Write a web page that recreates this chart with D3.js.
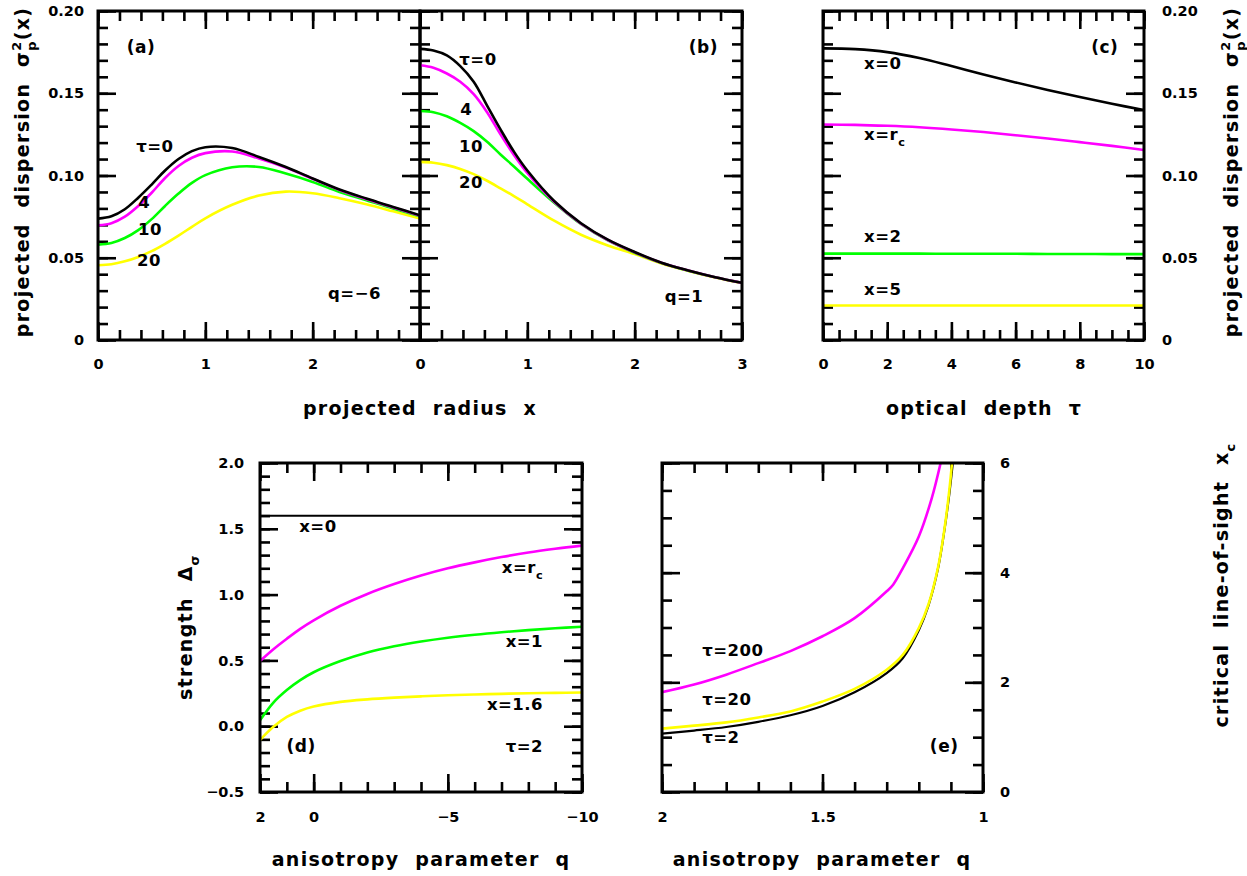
<!DOCTYPE html>
<html>
<head>
<meta charset="utf-8">
<script src="https://cdn.jsdelivr.net/npm/d3@7"></script>
<style>
  body { margin: 0; background: #fff; }
  text { font-family: "DejaVu Sans", sans-serif; font-weight: bold; white-space: pre; fill: #000; }
</style>
</head>
<body>
<script>
// ---- data ----
// projected radius grid, panels (a) and (b)
const radius = [0, 0.125, 0.25, 0.375, 0.5, 0.625, 0.75, 0.875, 1, 1.25, 1.5, 1.75, 2, 2.25, 2.5, 2.75, 3];
// (a) q = -6
const dispA_tau0  = [0.0738, 0.0752, 0.0795, 0.0865, 0.0945, 0.1030, 0.1100, 0.1148, 0.1172, 0.1167, 0.1113, 0.1052, 0.0982, 0.0915, 0.0860, 0.0809, 0.0758];
const dispA_tau4  = [0.0697, 0.0710, 0.0750, 0.0815, 0.0895, 0.0985, 0.1058, 0.1108, 0.1136, 0.1146, 0.1103, 0.1048, 0.0980, 0.0912, 0.0857, 0.0806, 0.0755];
const dispA_tau10 = [0.0580, 0.0590, 0.0620, 0.0668, 0.0735, 0.0815, 0.0890, 0.0955, 0.1002, 0.1050, 0.1052, 0.1012, 0.0961, 0.0900, 0.0850, 0.0799, 0.0752];
const dispA_tau20 = [0.0454, 0.0460, 0.0478, 0.0505, 0.0540, 0.0585, 0.0635, 0.0688, 0.0740, 0.0822, 0.0878, 0.0902, 0.0892, 0.0862, 0.0825, 0.0782, 0.0738];
// (b) q = 1
const dispB_tau0  = [0.1770, 0.1760, 0.1730, 0.1665, 0.1570, 0.1425, 0.1280, 0.1145, 0.1030, 0.0845, 0.0710, 0.0610, 0.0535, 0.0470, 0.0423, 0.0382, 0.0348];
const dispB_tau4  = [0.1670, 0.1655, 0.1620, 0.1570, 0.1495, 0.1385, 0.1250, 0.1125, 0.1015, 0.0840, 0.0707, 0.0608, 0.0533, 0.0469, 0.0422, 0.0381, 0.0347];
const dispB_tau10 = [0.1392, 0.1385, 0.1360, 0.1320, 0.1270, 0.1205, 0.1128, 0.1055, 0.0980, 0.0835, 0.0705, 0.0605, 0.0530, 0.0468, 0.0421, 0.0381, 0.0347];
const dispB_tau20 = [0.1083, 0.1078, 0.1063, 0.1040, 0.1008, 0.0968, 0.0922, 0.0875, 0.0825, 0.0725, 0.0640, 0.0575, 0.0522, 0.0465, 0.0420, 0.0380, 0.0346];
// (c) optical depth grid
const tau = [0, 1, 2, 3, 4, 5, 6, 7, 8, 9, 10];
const dispC_x0  = [0.1773, 0.1768, 0.1750, 0.1714, 0.1665, 0.1614, 0.1566, 0.1520, 0.1477, 0.1436, 0.1398];
const dispC_xrc = [0.1310, 0.1308, 0.1302, 0.1293, 0.1280, 0.1264, 0.1245, 0.1225, 0.1203, 0.1180, 0.1155];
const dispC_x2  = [0.0525, 0.0525, 0.0525, 0.0525, 0.0524, 0.0524, 0.0524, 0.0523, 0.0523, 0.0522, 0.0522];
const dispC_x5  = [0.0210, 0.0210, 0.0210, 0.0210, 0.0210, 0.0210, 0.0210, 0.0210, 0.0210, 0.0210, 0.0210];
// (d) strength vs anisotropy, tau = 2
const qD = [2, 1.5, 1, 0.5, 0, -1, -2, -3, -4, -5, -6, -7, -8, -9, -10];
const strengthX0  = [1.6, 1.6, 1.6, 1.6, 1.6, 1.6, 1.6, 1.6, 1.6, 1.6, 1.6, 1.6, 1.6, 1.6, 1.6];
const strengthXrc = [0.495, 0.585, 0.665, 0.74, 0.805, 0.915, 1.005, 1.08, 1.145, 1.2, 1.245, 1.285, 1.32, 1.348, 1.372];
const strengthX1  = [0.045, 0.18, 0.275, 0.35, 0.41, 0.495, 0.56, 0.607, 0.643, 0.672, 0.695, 0.714, 0.73, 0.744, 0.756];
const strengthX16 = [-0.105, -0.005, 0.07, 0.118, 0.150, 0.185, 0.204, 0.217, 0.227, 0.235, 0.241, 0.246, 0.25, 0.253, 0.256];
// (e) critical line-of-sight
const critQ_t200 = [2, 1.9, 1.8, 1.7, 1.6, 1.5, 1.4, 1.3, 1.28, 1.25, 1.2, 1.16, 1.132];
const critX_t200 = [1.82, 1.96, 2.14, 2.35, 2.57, 2.84, 3.17, 3.66, 3.78, 4.08, 4.66, 5.35, 6.0];
const critQ_t20  = [2, 1.9, 1.8, 1.7, 1.6, 1.5, 1.4, 1.3, 1.25, 1.2, 1.17, 1.14, 1.12, 1.105, 1.0966];
const critX_t20  = [1.155, 1.21, 1.27, 1.36, 1.47, 1.65, 1.88, 2.23, 2.50, 2.99, 3.42, 4.10, 4.80, 5.50, 6.0];
const critQ_t2   = [2, 1.9, 1.8, 1.7, 1.6, 1.5, 1.4, 1.3, 1.25, 1.2, 1.17, 1.14, 1.12, 1.104, 1.094];
const critX_t2   = [1.064, 1.12, 1.185, 1.28, 1.40, 1.57, 1.82, 2.17, 2.44, 2.95, 3.40, 4.08, 4.78, 5.48, 6.0];

// tick labels
const ticksA_x = [0, 1, 2, 3];
const ticksC_x = [0, 2, 4, 6, 8, 10];
const ticksDisp = [0, 0.05, 0.10, 0.15, 0.20];
const ticksD_x = [2, 0, -5, -10];
const ticksD_y = [-0.5, 0, 0.5, 1.0, 1.5, 2.0];
const ticksE_x = [2, 1.5, 1];
const ticksE_y = [0, 2, 4, 6];

const MAGENTA = '#ff00ff', GREEN = '#00ff00', YELLOW = '#ffff00', BLACK = '#000';

const svg = d3.select('body').append('svg')
    .attr('width', 1247)
    .attr('height', 876);

let clipId = 0;

function stepRange(a, b, s) {
    const lo = Math.min(a, b), hi = Math.max(a, b);
    return d3.range(Math.round(lo / s), Math.round(hi / s) + 1).map(i => +(i * s).toFixed(6));
}

// one framed panel with inward ticks on every side
function panel(cfg) {
    const w = cfg.width, h = cfg.height;
    const g = svg.append('g').attr('transform', `translate(${cfg.left},${cfg.top})`);
    const x = d3.scaleLinear().domain(cfg.xDomain).range([0, w]);
    const y = d3.scaleLinear().domain(cfg.yDomain).range([h, 0]);

    const id = 'clip' + (clipId++);
    g.append('clipPath').attr('id', id).append('rect').attr('width', w).attr('height', h);

    const sides = [
        { axis: d3.axisBottom, s: x, tr: `translate(0,${h})`, name: 'bottom' },
        { axis: d3.axisTop, s: x, tr: null, name: 'top' },
        { axis: d3.axisLeft, s: y, tr: null, name: 'left' },
        { axis: d3.axisRight, s: y, tr: `translate(${w},0)`, name: 'right' }
    ];
    sides.forEach(sd => {
        const isX = sd.s === x;
        const minor = isX ? cfg.xMinor : cfg.yMinor;
        const major = isX ? cfg.xMajor : cfg.yMajor;
        const labelled = isX ? cfg.xLabelSide === sd.name : cfg.yLabelSide === sd.name;
        const fmt = isX ? cfg.xFormat : cfg.yFormat;
        const pad = isX ? cfg.xPad : cfg.yPad;

        g.append('g').attr('transform', sd.tr)
            .call(sd.axis(sd.s).tickValues(minor).tickSize(-10).tickFormat(''))
            .call(a => a.select('.domain').remove());
        g.append('g').attr('transform', sd.tr)
            .call(sd.axis(sd.s).tickValues(major).tickSize(-18)
                .tickPadding(pad || 0)
                .tickFormat(labelled ? fmt : ''))
            .call(a => a.select('.domain').remove())
            .call(a => a.selectAll('text')
                .attr('font-size', 14.5)
                .attr('font-family', null));
    });
    g.selectAll('.tick line').attr('stroke', BLACK).attr('stroke-width', 2.6);

    const plot = g.append('g').attr('clip-path', `url(#${id})`);
    g.append('rect')
        .attr('width', w).attr('height', h)
        .attr('fill', 'none').attr('stroke', BLACK).attr('stroke-width', 3);

    return { g, plot, x, y };
}

function curve(p, xs, ys, color, width) {
    const line = d3.line()
        .x(d => p.x(d[0]))
        .y(d => p.y(d[1]))
        .curve(d3.curveCatmullRom.alpha(0.5));
    p.plot.append('path')
        .datum(xs.map((v, i) => [v, ys[i]]))
        .attr('d', line)
        .attr('fill', 'none')
        .attr('stroke', color)
        .attr('stroke-width', width || 2.6)
        .attr('stroke-linejoin', 'round');
}

// text made of plain, sub- and superscript parts; stack:true puts a part under the previous one
function rich(sel, parts, size) {
    let shift = 0, prevLen = 0;
    parts.forEach(pt => {
        if (typeof pt === 'string') pt = { t: pt };
        const target = pt.sub ? size * 0.38 : pt.sup ? -size * 0.42 : 0;
        const ts = sel.append('tspan').text(pt.t).attr('dy', target - shift);
        if (pt.sub || pt.sup) ts.attr('font-size', size * 0.68);
        if (pt.stack) ts.attr('dx', -prevLen);
        shift = target;
        prevLen = ts.node().getComputedTextLength();
    });
    return sel;
}

function note(p, xv, yv, parts, anchor, size) {
    const s = size || 16.5;
    const t = p.g.append('text')
        .attr('x', p.x(xv)).attr('y', p.y(yv))
        .attr('dy', '0.36em')
        .attr('text-anchor', anchor || 'middle')
        .attr('font-size', s)
        .attr('letter-spacing', 0.5);
    rich(t, [].concat(parts), s);
    return t;
}

function title(xp, yp, parts, rotate, size) {
    const s = size || 19;
    const t = svg.append('text')
        .attr('transform', `translate(${xp},${yp})` + (rotate ? ' rotate(-90)' : ''))
        .attr('text-anchor', 'middle')
        .attr('font-size', s)
        .attr('letter-spacing', 1.3);
    rich(t, [].concat(parts), s);
    return t;
}

const fmtDisp = d => d === 0 ? '0' : d3.format('.2f')(d);

// ---- (a) ----
const pA = panel({
    left: 98, top: 11, width: 322, height: 329,
    xDomain: [0, 3], yDomain: [0, 0.2],
    xMajor: ticksA_x, xMinor: stepRange(0, 3, 0.2),
    yMajor: ticksDisp, yMinor: stepRange(0, 0.2, 0.01),
    xLabelSide: 'bottom', yLabelSide: 'left',
    xFormat: d => d === 3 ? '' : d, yFormat: fmtDisp, xPad: 19, yPad: 14
});
curve(pA, radius, dispA_tau20, YELLOW);
curve(pA, radius, dispA_tau10, GREEN);
curve(pA, radius, dispA_tau4, MAGENTA);
curve(pA, radius, dispA_tau0, BLACK);
note(pA, 0.40, 0.1745, '(a)', 'middle', 17);
note(pA, 0.53, 0.1141, 'τ=0');
note(pA, 0.43, 0.0801, '4');
note(pA, 0.485, 0.0636, '10');
note(pA, 0.475, 0.0448, '20');
note(pA, 2.39, 0.0247, 'q=−6');

// ---- (b) ----
const pB = panel({
    left: 420, top: 11, width: 322, height: 329,
    xDomain: [0, 3], yDomain: [0, 0.2],
    xMajor: ticksA_x, xMinor: stepRange(0, 3, 0.2),
    yMajor: ticksDisp, yMinor: stepRange(0, 0.2, 0.01),
    xLabelSide: 'bottom', yLabelSide: null,
    xFormat: d => d, xPad: 19
});
curve(pB, radius, dispB_tau20, YELLOW);
curve(pB, radius, dispB_tau10, GREEN);
curve(pB, radius, dispB_tau4, MAGENTA);
curve(pB, radius, dispB_tau0, BLACK);
note(pB, 2.64, 0.1745, '(b)', 'middle', 17);
note(pB, 0.54, 0.1672, 'τ=0');
note(pB, 0.43, 0.1367, '4');
note(pB, 0.475, 0.1142, '10');
note(pB, 0.475, 0.0923, '20');
note(pB, 2.46, 0.0228, 'q=1');

// ---- (c) ----
const pC = panel({
    left: 823, top: 11, width: 321, height: 329,
    xDomain: [0, 10], yDomain: [0, 0.2],
    xMajor: ticksC_x, xMinor: stepRange(0, 10, 0.5),
    yMajor: ticksDisp, yMinor: stepRange(0, 0.2, 0.01),
    xLabelSide: 'bottom', yLabelSide: 'right',
    xFormat: d => d, yFormat: fmtDisp, xPad: 19, yPad: 18
});
curve(pC, tau, dispC_x5, YELLOW);
curve(pC, tau, dispC_x2, GREEN);
curve(pC, tau, dispC_xrc, MAGENTA);
curve(pC, tau, dispC_x0, BLACK);
note(pC, 8.78, 0.1745, '(c)', 'middle', 17);
note(pC, 1.28, 0.1647, 'x=0', 'start');
note(pC, 1.28, 0.1215, ['x=r', { t: 'c', sub: true }], 'start');
note(pC, 1.28, 0.0594, 'x=2', 'start');
note(pC, 1.28, 0.0271, 'x=5', 'start');

// ---- (d) ----
const pD = panel({
    left: 260, top: 463, width: 322, height: 329,
    xDomain: [2, -10], yDomain: [-0.5, 2],
    xMajor: ticksD_x, xMinor: stepRange(-10, 2, 1),
    yMajor: ticksD_y, yMinor: stepRange(-0.5, 2, 0.1),
    xLabelSide: 'bottom', yLabelSide: 'left',
    xFormat: d3.format('d'), yFormat: d3.format('.1f'), xPad: 20, yPad: 16
});
curve(pD, qD, strengthX16, YELLOW);
curve(pD, qD, strengthX1, GREEN);
curve(pD, qD, strengthXrc, MAGENTA);
curve(pD, qD, strengthX0, BLACK, 2);
note(pD, -0.16, 1.476, 'x=0');
note(pD, -8.55, 1.164, ['x=r', { t: 'c', sub: true }], 'end');
note(pD, -8.55, 0.602, 'x=1', 'end');
note(pD, -8.55, 0.123, 'x=1.6', 'end');
note(pD, -8.55, -0.196, 'τ=2', 'end');
note(pD, 0.47, -0.196, '(d)', 'middle', 17);

// ---- (e) ----
const pE = panel({
    left: 662, top: 463, width: 321, height: 329,
    xDomain: [2, 1], yDomain: [0, 6],
    xMajor: ticksE_x, xMinor: stepRange(1, 2, 0.1),
    yMajor: ticksE_y, yMinor: stepRange(0, 6, 0.5),
    xLabelSide: 'bottom', yLabelSide: 'right',
    xFormat: d => d, yFormat: d => d, xPad: 20, yPad: 17
});
curve(pE, critQ_t2, critX_t2, BLACK, 2.2);
curve(pE, critQ_t20, critX_t20, YELLOW);
curve(pE, critQ_t200, critX_t200, MAGENTA);
note(pE, 1.875, 2.48, 'τ=200', 'start');
note(pE, 1.875, 1.587, 'τ=20', 'start');
note(pE, 1.875, 0.894, 'τ=2', 'start');
note(pE, 1.121, 0.73, '(e)', 'middle', 17);

// ---- axis titles ----
const sigmaTitle = ['projected  dispersion  σ', { t: '2', sup: true }, { t: 'p', sub: true, stack: true }, '(x)'];
title(29, 172, sigmaTitle, true);
title(1238, 172, sigmaTitle, true);
title(420, 415, 'projected  radius  x');
title(984, 415, 'optical  depth  τ');
title(192, 627, ['strength  Δ', { t: 'σ', sub: true }], true);
title(1228, 585, ['critical  line-of-sight  x', { t: 'c', sub: true }], true);
title(421, 866, 'anisotropy  parameter  q');
title(822, 866, 'anisotropy  parameter  q');
</script>
</body>
</html>
